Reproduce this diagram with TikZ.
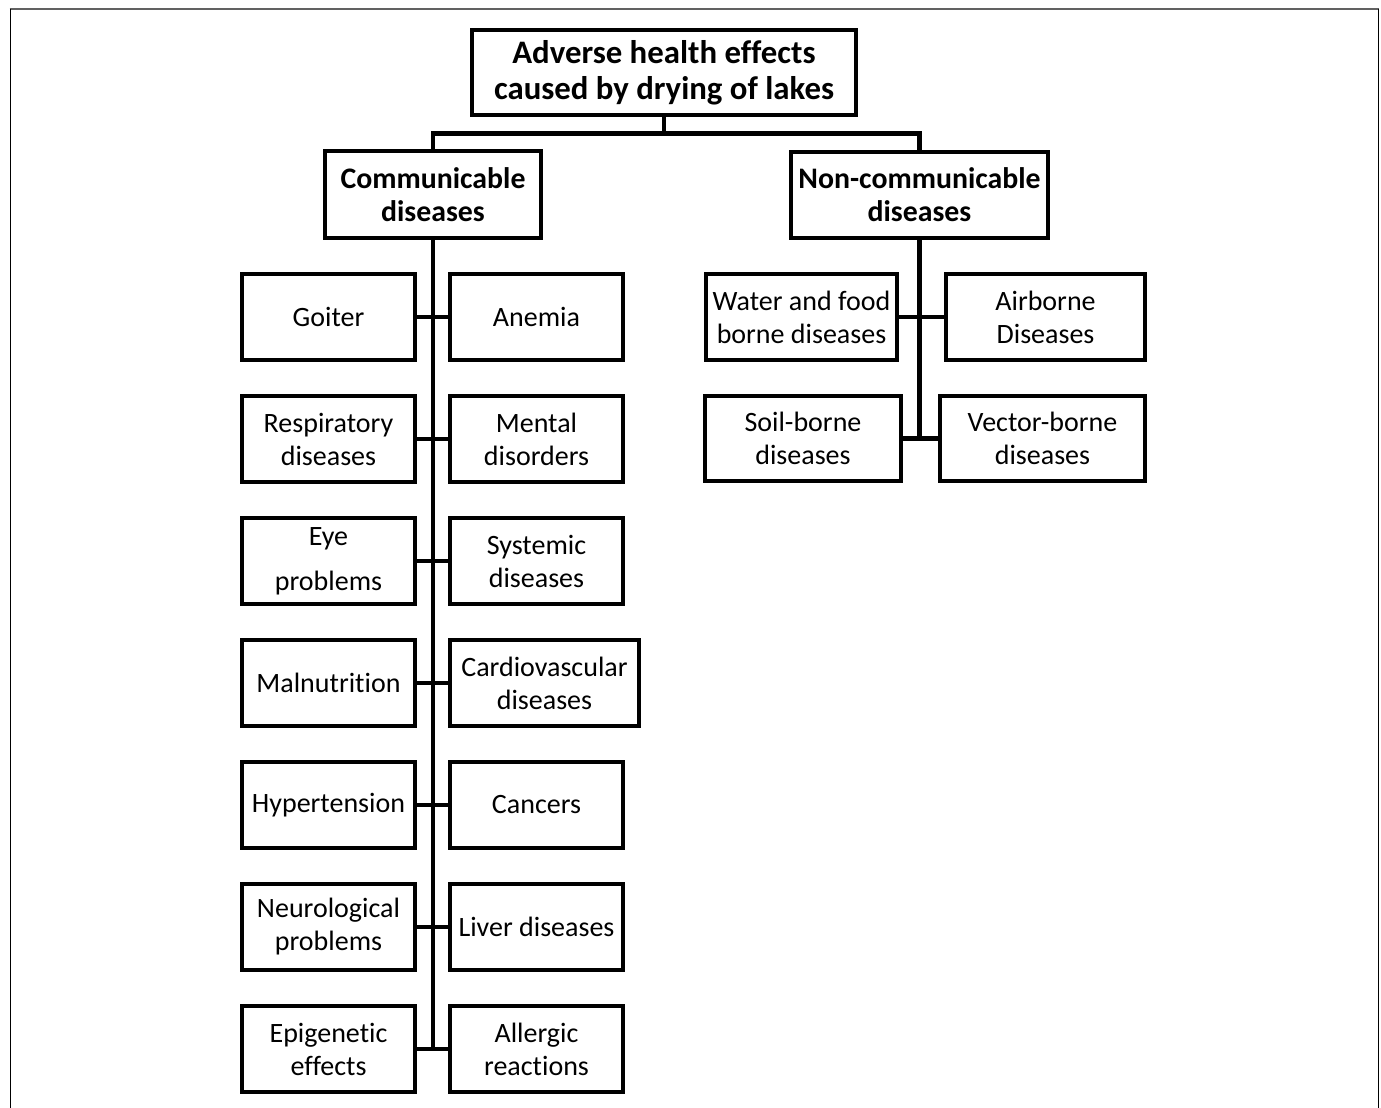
\documentclass[tikz,border=0pt]{standalone}
\usepackage{fontspec}
\setmainfont[Ligatures={NoCommon}]{Carlito}
\begin{document}
\begin{tikzpicture}[x=1pt,y=-1pt,
  box/.style={draw=black,line width=4pt,fill=white,inner sep=0pt,align=center,
    minimum height=86pt,font=\fontsize{28}{33}\selectfont},
  catbox/.style={box,font=\fontsize{29.8}{33}\selectfont\bfseries},
  titlebox/.style={box,font=\fontsize{32.8}{36}\selectfont\bfseries},
  link/.style={draw=black,line width=4.5pt}]
\useasboundingbox (0,0) rectangle (1381,1108);
% outer frame
\draw[black!62,line width=2pt] (9.5,9) -- (1379,9);
\draw[black,line width=1.3pt] (10.3,9) -- (10.3,1108);
\draw[black,line width=1.3pt] (1378.5,9) -- (1378.5,1108);
% title and categories
\node[titlebox,minimum width=384pt,minimum height=85pt] (title) at (664,72.5) {Adverse health effects\\caused by drying of lakes};
\node[catbox,minimum width=216pt,minimum height=87pt] (comm) at (433,194.5) {Communicable\\diseases};
\node[catbox,minimum width=257pt,minimum height=86pt] (ncomm) at (919.5,194.5) {Non-communicable\\diseases};
% communicable items
\node[box,minimum width=173pt] (l1) at (328.5,317) {Goiter};
\node[box,minimum width=173pt] (r1) at (536.5,317) {Anemia};
\node[box,minimum width=173pt] (l2) at (328.5,439) {Respiratory\\diseases};
\node[box,minimum width=173pt] (r2) at (536.5,439) {Mental\\disorders};
\node[box,minimum width=173pt] (l3) at (328.5,561) {Eye\\[12pt]problems};
\node[box,minimum width=173pt] (r3) at (536.5,561) {Systemic\\diseases};
\node[box,minimum width=173pt] (l4) at (328.5,683) {Malnutrition};
\node[box,minimum width=189pt] (r4) at (544.5,683) {Cardiovascular\\diseases};
\node[box,minimum width=173pt] (l5) at (328.5,805) {Hypertension};
\node[box,minimum width=173pt] (r5) at (536.5,805) {Cancers};
\node[box,minimum width=173pt] (l6) at (328.5,927) {Neurological\\problems};
\node[box,minimum width=173pt] (r6) at (536.5,927) {Liver diseases};
\node[box,minimum width=173pt] (l7) at (328.5,1049) {Epigenetic\\effects};
\node[box,minimum width=173pt] (r7) at (536.5,1049) {Allergic\\reactions};
% non-communicable items
\node[box,minimum width=191pt] (water) at (801.5,317) {Water and food\\borne diseases};
\node[box,minimum width=199pt] (air) at (1045.5,317) {Airborne\\Diseases};
\node[box,minimum width=196pt,minimum height=85pt] (soil) at (803,438.5) {Soil-borne\\diseases};
\node[box,minimum width=205pt,minimum height=85pt] (vec) at (1042.5,438.5) {Vector-borne\\diseases};
% connectors
\coordinate (bar) at (664,133.5);
\draw[link] (title.south) -- (bar);
\draw[link] (comm.north) -- (comm.north |- bar) -- (ncomm.north |- bar) -- (ncomm.north);
\draw[link] (comm.south) -- (comm.south |- l7.east);
\foreach \i in {1,...,7}{\draw[link] (l\i.east) -- (r\i.west);}
\draw[link] (ncomm.south) -- (ncomm.south |- soil.east);
\draw[link] (water.east) -- (air.west);
\draw[link] (soil.east) -- (vec.west);
\end{tikzpicture}
\end{document}
